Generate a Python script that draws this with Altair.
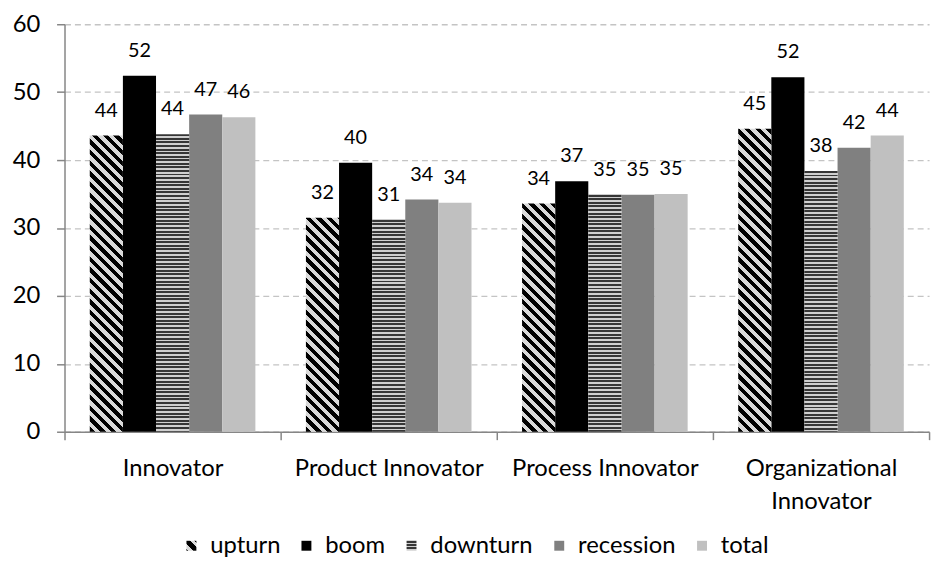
import json
import math
import altair as alt
import pandas as pd

# ---------------- data ----------------
categories = ["Innovator", "Product Innovator", "Process Innovator", "Organizational Innovator"]
series = ["upturn", "boom", "downturn", "recession", "total"]
upturn = [43.6, 31.5, 33.6, 44.6]
boom = [52.4, 39.6, 36.9, 52.2]
downturn = [43.8, 31.2, 34.9, 38.4]
recession = [46.7, 34.2, 34.9, 41.8]
total = [46.3, 33.7, 35.0, 43.6]
y_ticks = [0, 10, 20, 30, 40, 50, 60]

values = {"upturn": upturn, "boom": boom, "downturn": downturn,
          "recession": recession, "total": total}
rows = [{"category": c, "series": s, "value": values[s][i]}
        for s in series for i, c in enumerate(categories)]
df = pd.DataFrame(rows)

# ---------------- layout / style ----------------
W, H = 872, 411
Y_MAX = 60
OFF_OUTER = 0.763
BAR_W = (W / len(categories)) / (len(series) + 2 * OFF_OUTER)
FONT = "Lato"

DIAG_DARK, DIAG_LIGHT = "#000000", "#d9d9d9"
HOR_DARK, HOR_LIGHT = "#363636", "#cfcfcf"
solid_colors = {"boom": "#000000", "recession": "#808080", "total": "#c0c0c0"}


def stripe_stops(n, frac, dark, light):
    stops = []
    i = 0
    while i / n < 1 - 1e-9:
        a = i / n
        b = min((i + frac) / n, 1.0)
        c = min((i + 1) / n, 1.0)
        stops += [{"offset": round(a, 5), "color": dark},
                  {"offset": round(b, 5), "color": dark},
                  {"offset": round(b, 5), "color": light},
                  {"offset": round(c, 5), "color": light}]
        i += 1
    return stops


def diag_gradient(w, h, period=7.6, frac=0.5):
    k = (w + h) / (w * w + h * h)
    n = (w + h) / math.sqrt(2) / period
    return {"gradient": "linear", "x1": 0, "y1": 1,
            "x2": round(k * w, 6), "y2": round(1 - k * h, 6),
            "stops": stripe_stops(n, frac, DIAG_DARK, DIAG_LIGHT)}


def hor_gradient(h, period=3.6, frac=0.55):
    n = h / period
    return {"gradient": "linear", "x1": 0, "y1": 0, "x2": 0, "y2": 1,
            "stops": stripe_stops(n, frac, HOR_DARK, HOR_LIGHT)}


# legend swatches (square symbols)
legend_diag = {"gradient": "linear", "x1": 0, "y1": 1, "x2": 1, "y2": 0,
               "stops": [{"offset": 0, "color": DIAG_DARK}, {"offset": 0.08, "color": DIAG_DARK},
                         {"offset": 0.08, "color": DIAG_LIGHT}, {"offset": 0.32, "color": DIAG_LIGHT},
                         {"offset": 0.32, "color": DIAG_DARK}, {"offset": 0.68, "color": DIAG_DARK},
                         {"offset": 0.68, "color": DIAG_LIGHT}, {"offset": 0.92, "color": DIAG_LIGHT},
                         {"offset": 0.92, "color": DIAG_DARK}, {"offset": 1, "color": DIAG_DARK}]}
legend_hor = {"gradient": "linear", "x1": 0, "y1": 0, "x2": 0, "y2": 1,
              "stops": stripe_stops(3, 0.6, HOR_DARK, HOR_LIGHT)}

color_range = [alt.ExprRef(json.dumps(legend_diag)),
               solid_colors["boom"],
               alt.ExprRef(json.dumps(legend_hor)),
               solid_colors["recession"],
               solid_colors["total"]]

x_enc = alt.X("category:N", sort=categories,
              scale=alt.Scale(paddingInner=0, paddingOuter=0),
              axis=alt.Axis(title=None, labelAngle=0, tickBand="extent", tickSize=8,
                            tickColor="#868686", tickWidth=1.5, domainColor="#868686",
                            domainWidth=1.5, labelFont=FONT, labelFontSize=24,
                            labelColor="black", labelPadding=17, labelLineHeight=33,
                            labelLimit=400, grid=False,
                            labelExpr="length(datum.label) > 18 ? split(datum.label, ' ') : datum.label"))
xo_enc = alt.XOffset("series:N", sort=series,
                     scale=alt.Scale(domain=series, paddingInner=0, paddingOuter=OFF_OUTER))
y_enc = alt.Y("value:Q",
              scale=alt.Scale(domain=[0, Y_MAX], nice=False),
              axis=alt.Axis(title=None, values=y_ticks, grid=True, gridColor="#c4c4c4",
                            gridDash=[6, 4], gridWidth=1.3, domainColor="#868686",
                            domainWidth=1.5, tickColor="#868686", tickWidth=1.5, tickSize=8,
                            labelFont=FONT, labelFontSize=24, labelColor="black",
                            labelPadding=17))

base = alt.Chart(df).transform_filter(
    alt.FieldOneOfPredicate(field="series", oneOf=list(solid_colors))
).mark_bar().encode(
    x=x_enc, xOffset=xo_enc, y=y_enc,
    color=alt.Color("series:N",
                    scale=alt.Scale(domain=series, range=color_range),
                    legend=alt.Legend(title=None, orient="none", direction="horizontal",
                                      legendX=116, legendY=514, symbolType="square",
                                      symbolSize=100, symbolStrokeWidth=0,
                                      labelFont=FONT, labelFontSize=24, labelColor="black",
                                      labelOffset=7, columnPadding=14, padding=0,
                                      labelLimit=300))
)

layers = [base]
for i, c in enumerate(categories):
    h_up = upturn[i] / Y_MAX * H
    h_dn = downturn[i] / Y_MAX * H
    for s, grad in (("upturn", diag_gradient(BAR_W, h_up)), ("downturn", hor_gradient(h_dn))):
        layers.append(
            alt.Chart(df).transform_filter(
                (alt.datum.series == s) & (alt.datum.category == c)
            ).mark_bar(fill=grad).encode(x=x_enc, xOffset=xo_enc, y=y_enc)
        )

labels = alt.Chart(df).mark_text(font=FONT, fontSize=20, color="black",
                                 baseline="alphabetic", dy=-19).encode(
    x=x_enc, xOffset=xo_enc, y=y_enc,
    text=alt.Text("value:Q", format=".0f"))
layers.append(labels)

chart = alt.layer(*layers).properties(
    width=W, height=H,
    autosize=alt.AutoSizeParams(type="none"),
    padding={"left": 57, "top": 14, "right": 7, "bottom": 128},
    background="white",
).configure_view(stroke=None)

chart.save("out.html", embed_options={"renderer": "svg", "actions": False})
